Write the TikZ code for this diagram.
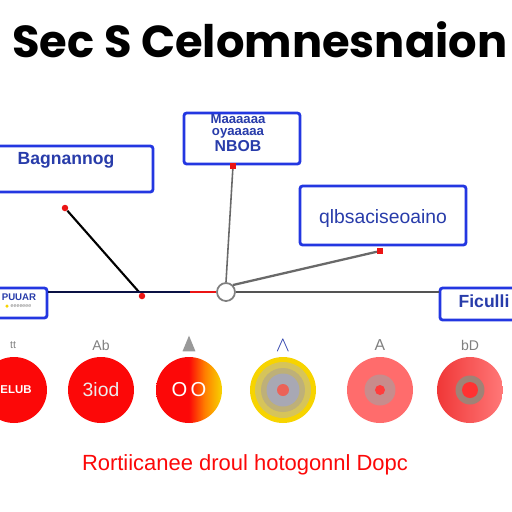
\documentclass[tikz,border=0pt]{standalone}
\usepackage{fontspec}
\setmainfont{Liberation Sans}
\newfontfamily\titlefont{Poppins}
\usetikzlibrary{shapes.geometric}

\definecolor{boxblue}{RGB}{35,55,225}
\definecolor{boxtext}{RGB}{40,60,170}
\definecolor{hubgray}{RGB}{105,105,105}
\definecolor{dotred}{RGB}{235,20,20}
\definecolor{discred}{RGB}{252,8,8}
\definecolor{discgold}{RGB}{247,212,0}
\definecolor{discpink}{RGB}{255,108,108}
\pgfdeclarehorizontalshading{redyellow}{100bp}{color(0bp)=(discred); color(50bp)=(discred); color(62bp)=(orange); color(75bp)=(discgold); color(100bp)=(discgold)}

\tikzset{
  labelbox/.style={draw=boxblue, line width=1.6pt, rounded corners=1.5pt, fill=white, inner sep=0pt},
  boxlabel/.style={text=boxtext, font=\bfseries},
  disc/.style={circle, minimum size=1.32cm, inner sep=0pt},
  ring/.style={circle, inner sep=0pt},
  reddot/.style={circle, fill=dotred, minimum size=0.13cm, inner sep=0pt},
  redsq/.style={rectangle, fill=dotred, minimum size=0.11cm, inner sep=0pt},
  toplabel/.style={text=gray, font=\footnotesize},
}

\begin{document}
\begin{tikzpicture}[x=0.02cm, y=-0.02cm]
	\useasboundingbox[fill=white] (0,0) rectangle (512,512);
	
	% Title
	\node[anchor=base west, inner sep=0pt, font=\titlefont\bfseries\fontsize{25.5}{30}\selectfont] (title) at (12,57) {Sec S Celomnesnaion};
	
	% Boxes
	\node[labelbox, minimum width=3.16cm, minimum height=0.92cm] (b1) at (74,169) {};
	\node[boxlabel, font=\bfseries\fontsize{10}{12}\selectfont] (t1) at (66,160) {Bagnannog};
	
	\node[labelbox, minimum width=2.32cm, minimum height=1.02cm] (b2) at (242,138.5) {};
	\node[boxlabel, align=center, font=\bfseries\fontsize{7.5}{7}\selectfont] (t2) at (238,133) {Maaaaaa\\oyaaaaa\\{\fontsize{9}{9}\selectfont NBOB}};
	
	\node[labelbox, minimum width=3.32cm, minimum height=1.18cm] (b3) at (383,215.5) {};
	\node[boxlabel, font=\fontsize{11}{12}\selectfont] (t3) at (383,218) {qlbsaciseoaino};
	
	\node[labelbox, minimum width=1.04cm, minimum height=0.6cm] (b4) at (21,303) {};
	\node[boxlabel, font=\bfseries\fontsize{5.5}{6}\selectfont] (t4) at (19,297) {PUUAR};
	\node[text=gray, font=\fontsize{3}{3}\selectfont] (t4b) at (21,306) {eeeeeee};
	\node[circle, fill=discgold, minimum size=0.07cm, inner sep=0pt] (y4) at (7,306) {};
	
	\node[labelbox, minimum width=1.6cm, minimum height=0.64cm] (b5) at (480,304) {};
	\node[boxlabel, font=\bfseries\fontsize{10}{12}\selectfont] (t5) at (484,301) {Ficulli};
	
	% Hub and connectors
	\node[circle, draw=gray, line width=1pt, fill=white, minimum size=0.36cm, inner sep=0pt] (hub) at (226,292) {};
	\node[reddot] (d1) at (65,208) {};
	\node[reddot] (d2) at (142,296) {};
	\node[redsq] (sq2) at (233,166) {};
	\node[redsq] (sq3) at (380,251) {};
	\coordinate (knee) at (139,292);
	\coordinate (redstart) at (190,292);
	
	\draw[line width=1.2pt] (d1) -- (knee);
	\draw[line width=1pt, boxblue!30!black] (b4.east |- hub) -- (knee) -- (redstart);
	\draw[line width=1pt, dotred] (redstart) -- (hub.west);
	\draw[line width=0.9pt, hubgray] (sq2) -- (hub.north);
	\draw[line width=1.3pt, hubgray] (hub.north east) -- (sq3);
	\draw[line width=1pt, hubgray!80!black] (hub.east) -- (b5.west |- hub);
	
	% Discs
	\node[disc, fill=discred, text=white, font=\bfseries\fontsize{6}{6}\selectfont] (c1) at (14,390) {};
	\node[text=white, font=\bfseries\fontsize{6.5}{6}\selectfont] (c1t) at (16,390) {ELUB};
	\node[disc, fill=discred, text=white!85!gray, font=\fontsize{11}{11}\selectfont] (c2) at (101,390) {3iod};
	\node[disc, shading=redyellow, text=white, font=\fontsize{11.5}{12}\selectfont] (c3) at (189,390) {O\,O};
	
	\node[disc, fill=discgold] (c4) at (283,390) {};
	\node[ring, fill={rgb,255:red,214;green,196;blue,90}, minimum size=1.12cm] (c4a) at (c4) {};
	\node[ring, fill={rgb,255:red,190;green,176;blue,120}, minimum size=0.88cm] (c4b) at (c4) {};
	\node[ring, fill={rgb,255:red,168;green,168;blue,180}, minimum size=0.66cm] (c4c) at (c4) {};
	\node[ring, fill={rgb,255:red,236;green,98;blue,88}, minimum size=0.24cm] (c4d) at (c4) {};
	
	\node[disc, fill=discpink] (c5) at (380,390) {};
	\node[ring, fill={rgb,255:red,200;green,140;blue,140}, minimum size=0.62cm] (c5a) at (c5) {};
	\node[ring, fill={rgb,255:red,255;green,60;blue,60}, minimum size=0.2cm] (c5b) at (c5) {};
	
	\node[disc, left color={rgb,255:red,240;green,55;blue,55}, right color={rgb,255:red,255;green,120;blue,120}] (c6) at (470,390) {};
	\node[ring, fill={rgb,255:red,160;green,130;blue,118}, minimum size=0.58cm] (c6a) at (c6) {};
	\node[ring, fill={rgb,255:red,255;green,50;blue,50}, minimum size=0.32cm] (c6b) at (c6) {};
	
	% Labels above discs
	\node[toplabel, font=\fontsize{6}{6}\selectfont] (l1) at (13,345) {tt};
	\node[toplabel] (l2) at (101,345) {Ab};
	\node[fill=gray!80, isosceles triangle, shape border rotate=90, minimum width=0.26cm, minimum height=0.28cm, inner sep=0pt] (l3) at (189,347) {};
	\node[text=boxtext, font=\large] (l4) at (283,346) {$\wedge$};
	\node[toplabel, font=\small] (l5) at (380,345) {A};
	\node[toplabel] (l6) at (470,345) {bD};
	
	% Caption
	\node[text=discred, font=\fontsize{12.5}{13}\selectfont] (cap) at (245,465) {Rortiicanee droul hotogonnl Dopc};
\end{tikzpicture}
\end{document}
